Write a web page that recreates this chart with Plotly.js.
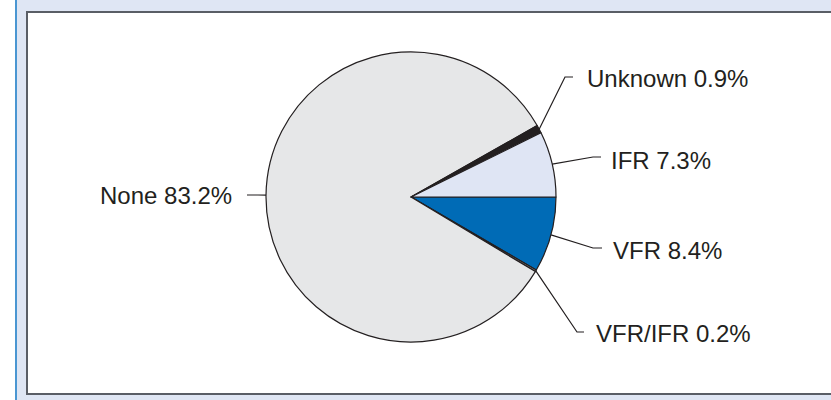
<!DOCTYPE html>
<html>
<head>
<meta charset="utf-8">
<script src="https://cdn.plot.ly/plotly-3.0.1.min.js"></script>
<style>
  html, body { margin: 0; padding: 0; background: #ffffff; }
  #chart { width: 831px; height: 400px; }
</style>
</head>
<body>
<div id="chart"></div>
<script>
// ---- Data (clockwise from 3 o'clock) ----
var categories = ['VFR', 'VFR/IFR', 'None', 'Unknown', 'IFR'];
var shares = [8.4, 0.2, 83.2, 0.9, 7.3];
var labelTexts = ['VFR 8.4%', 'VFR/IFR 0.2%', 'None 83.2%', 'Unknown 0.9%', 'IFR 7.3%'];
var sliceColors = ['#006bb6', '#8c8c8c', '#e6e7e8', '#231f20', '#dfe5f4'];

// ---- Layout / style ----
var W = 831, H = 400;
var CX = 411, CY = 197, R = 145;        // pie centre & radius in pixels
var START_DEG = 90;                      // start at 3 o'clock, clockwise
var ink = '#231f20';
var FONT = 'Liberation Sans, Arial, Helvetica, sans-serif';
var FS = 24;
// label elbows (pixels), horizontal run direction
var labelPlacement = {
  'VFR':     {elbow: [593, 248], side: 1,  run: 9, gap: 9,  dy: 3},
  'VFR/IFR': {elbow: [577, 332], side: 1,  run: 7, gap: 10, dy: 1},
  'None':    {elbow: [258, 195], side: -1, run: 11, gap: 13, dy: 0},
  'Unknown': {elbow: [565, 77],  side: 1,  run: 8, gap: 12, dy: 1},
  'IFR':     {elbow: [593, 157], side: 1,  run: 8, gap: 8,  dy: 3}
};

function px(x) { return x / W; }
function py(y) { return 1 - y / H; }

var total = shares.reduce(function (a, b) { return a + b; }, 0);
var shapes = [
  // white strip left of the blue rule
  {type: 'rect', xref: 'paper', yref: 'paper', x0: 0, x1: px(15), y0: 0, y1: 1,
   fillcolor: '#ffffff', line: {width: 0}, layer: 'below'},
  // blue rule
  {type: 'rect', xref: 'paper', yref: 'paper', x0: px(15), x1: px(17), y0: 0, y1: 1,
   fillcolor: '#4a96d2', line: {width: 0}, layer: 'below'},
  // inner white panel
  {type: 'rect', xref: 'paper', yref: 'paper', x0: px(27), x1: px(W + 5), y0: py(394), y1: py(12),
   fillcolor: '#ffffff', line: {color: '#5a5e66', width: 2}, layer: 'below'}
];
var annotations = [];

var acc = 0;
for (var i = 0; i < categories.length; i++) {
  var midDeg = START_DEG + (acc + shares[i] / 2) / total * 360;
  acc += shares[i];
  var a = midDeg * Math.PI / 180;
  var sx = CX + R * Math.sin(a), sy = CY - R * Math.cos(a);
  var p = labelPlacement[categories[i]];
  var ex = p.elbow[0], ey = p.elbow[1];
  var hx = ex + p.side * p.run;
  shapes.push({
    type: 'path', xref: 'paper', yref: 'paper', layer: 'above',
    path: 'M ' + px(sx) + ',' + py(sy) + ' L ' + px(ex) + ',' + py(ey) + ' L ' + px(hx) + ',' + py(ey),
    line: {color: ink, width: 1.2}
  });
  annotations.push({
    xref: 'paper', yref: 'paper',
    x: px(hx + p.side * p.gap), y: py(ey + p.dy),
    xanchor: p.side > 0 ? 'left' : 'right', yanchor: 'middle',
    text: labelTexts[i], showarrow: false,
    font: {family: FONT, size: FS, color: ink}
  });
}

var trace = {
  type: 'pie',
  labels: categories,
  values: shares,
  sort: false,
  direction: 'clockwise',
  rotation: START_DEG,
  textinfo: 'none',
  hoverinfo: 'label+percent',
  marker: {colors: sliceColors, line: {color: ink, width: 1.2}},
  domain: {x: [px(CX - R), px(CX + R)], y: [py(CY + R), py(CY - R)]},
  showlegend: false
};

var layout = {
  width: W, height: H,
  margin: {l: 0, r: 0, t: 0, b: 0},
  paper_bgcolor: '#dfe6f4',
  plot_bgcolor: 'rgba(0,0,0,0)',
  showlegend: false,
  shapes: shapes,
  annotations: annotations,
  font: {family: FONT, color: ink}
};

Plotly.newPlot('chart', [trace], layout, {displayModeBar: false, staticPlot: true});
</script>
</body>
</html>
